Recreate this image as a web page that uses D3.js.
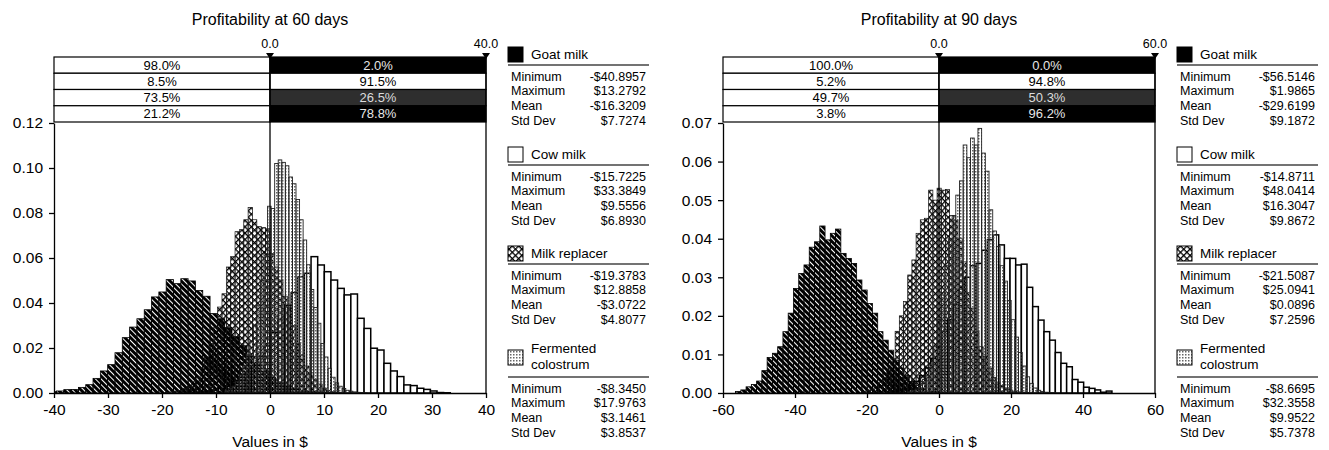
<!DOCTYPE html>
<html>
<head>
<meta charset="utf-8">
<script src="https://cdn.jsdelivr.net/npm/d3@7"></script>
<style>
body { margin: 0; background: #fff; }
text { font-family: "Liberation Sans", Arial, sans-serif; fill: #000; }
</style>
</head>
<body>
<div id="chart"></div>
<script>
// ---- data ----
var seriesNames = ["Goat milk", "Cow milk", "Milk replacer", "Fermented colostrum"];
var legendLines = [["Goat milk"], ["Cow milk"], ["Milk replacer"], ["Fermented", "colostrum"]];
var statLabels = ["Minimum", "Maximum", "Mean", "Std Dev"];

// 60 days
var xTicks60 = [-40, -30, -20, -10, 0, 10, 20, 30, 40];
var yTicks60 = [0, 0.02, 0.04, 0.06, 0.08, 0.10, 0.12];
var markers60 = [0, 40];
var belowZero60 = [98.0, 8.5, 73.5, 21.2];
var aboveZero60 = [2.0, 91.5, 26.5, 78.8];
var goatStats60 = [-40.8957, 13.2792, -16.3209, 7.7274];
var cowStats60 = [-15.7225, 33.3849, 9.5556, 6.8930];
var replacerStats60 = [-19.3783, 12.8858, -3.0722, 4.8077];
var colostrumStats60 = [-8.3450, 17.9763, 3.1461, 3.8537];
var goatHist60 = [0.0006, 0.0009, 0.0015, 0.0016, 0.0025, 0.0037, 0.0065, 0.0098, 0.0126, 0.0179,
  0.0246, 0.0293, 0.033, 0.037, 0.0427, 0.0449, 0.0504, 0.0486, 0.0508, 0.0498,
  0.0456, 0.043, 0.0353, 0.033, 0.029, 0.025, 0.021, 0.0165, 0.013, 0.0095,
  0.0068, 0.0048, 0.0032, 0.0022, 0.0013, 0.0008, 0.0005, 0.0003, 0.0002, 0.0001];
var cowHist60 = [0.0001, 0.0002, 0.0005, 0.0008, 0.0013, 0.002, 0.003, 0.005, 0.007, 0.009,
  0.012, 0.016, 0.021, 0.027, 0.033, 0.039, 0.0446, 0.0517, 0.0532, 0.0606,
  0.0569, 0.0539, 0.0502, 0.0465, 0.0436, 0.044, 0.0332, 0.0287, 0.0199, 0.0191,
  0.0132, 0.0098, 0.0073, 0.0036, 0.0033, 0.0021, 0.0016, 0.0009, 0.0002, 0.0001];
var replacerHist60 = [0.0003, 0.0005, 0.0008, 0.0012, 0.002, 0.003, 0.005, 0.007, 0.011, 0.016,
  0.022, 0.029, 0.0382, 0.0441, 0.056, 0.0606, 0.0717, 0.0726, 0.077, 0.0825,
  0.077, 0.074, 0.0735, 0.073, 0.062, 0.056, 0.05, 0.043, 0.038, 0.03,
  0.022, 0.017, 0.012, 0.009, 0.006, 0.004, 0.0022, 0.0012, 0.0006, 0.0002];
var colostrumHist60 = [0.001, 0.002, 0.003, 0.005, 0.008, 0.012, 0.017, 0.023, 0.03, 0.039,
  0.05, 0.062, 0.083, 0.082, 0.102, 0.1036, 0.1025, 0.101, 0.096, 0.093,
  0.086, 0.077, 0.068, 0.057, 0.046, 0.038, 0.031, 0.022, 0.016, 0.011,
  0.007, 0.0045, 0.003, 0.002, 0.0012, 0.0008, 0.0005, 0.0003, 0.0002, 0.0001];

// 90 days
var xTicks90 = [-60, -40, -20, 0, 20, 40, 60];
var yTicks90 = [0, 0.01, 0.02, 0.03, 0.04, 0.05, 0.06, 0.07];
var markers90 = [0, 60];
var belowZero90 = [100.0, 5.2, 49.7, 3.8];
var aboveZero90 = [0.0, 94.8, 50.3, 96.2];
var goatStats90 = [-56.5146, 1.9865, -29.6199, 9.1872];
var cowStats90 = [-14.8711, 48.0414, 16.3047, 9.8672];
var replacerStats90 = [-21.5087, 25.0941, 0.0896, 7.2596];
var colostrumStats90 = [-8.6695, 32.3558, 9.9522, 5.7378];
var goatHist90 = [0.0004, 0.0008, 0.0016, 0.0022, 0.0031, 0.0058, 0.0092, 0.0103, 0.012, 0.0159,
  0.0207, 0.0271, 0.031, 0.0332, 0.0378, 0.0392, 0.0433, 0.0397, 0.0414, 0.0425,
  0.0362, 0.0349, 0.0336, 0.0293, 0.0267, 0.0232, 0.0207, 0.0159, 0.0137, 0.0111,
  0.0085, 0.0065, 0.0045, 0.003, 0.002, 0.0012, 0.0007, 0.0004, 0.0002, 0.0001];
var cowHist90 = [0.0002, 0.0004, 0.0007, 0.0012, 0.002, 0.003, 0.0045, 0.0065, 0.009, 0.012,
  0.016, 0.019, 0.023, 0.027, 0.030, 0.033, 0.0336, 0.037, 0.0397, 0.041,
  0.0384, 0.0349, 0.0349, 0.0332, 0.0334, 0.0274, 0.0224, 0.0189, 0.0159, 0.0137,
  0.0105, 0.0077, 0.0068, 0.0035, 0.0028, 0.0015, 0.0012, 0.0008, 0.0002, 0.0005];
var replacerHist90 = [0.0003, 0.0006, 0.001, 0.0017, 0.0027, 0.004, 0.006, 0.009, 0.016, 0.02,
  0.0237, 0.0306, 0.0345, 0.0414, 0.0449, 0.0453, 0.0526, 0.05, 0.0531, 0.0526,
  0.0528, 0.046, 0.0447, 0.04, 0.034, 0.026, 0.022, 0.016, 0.012, 0.0095,
  0.0065, 0.004, 0.0028, 0.002, 0.0013, 0.0008, 0.0005, 0.0003, 0.0002, 0.0001];
var colostrumHist90 = [0.0003, 0.0006, 0.001, 0.002, 0.0035, 0.0045, 0.0075, 0.012, 0.019, 0.026,
  0.033, 0.040, 0.046, 0.0513, 0.055, 0.0643, 0.061, 0.0661, 0.0643, 0.0686,
  0.0622, 0.0575, 0.0475, 0.042, 0.038, 0.033, 0.029, 0.024, 0.019, 0.0145,
  0.0105, 0.007, 0.0042, 0.0025, 0.0013, 0.0007, 0.0004, 0.0002, 0.0001, 0.0001];

var panels = [
  { title: "Profitability at 60 days", left: 54, xTicks: xTicks60, yTicks: yTicks60, markers: markers60,
    below: belowZero60, above: aboveZero60,
    hists: [goatHist60, cowHist60, replacerHist60, colostrumHist60],
    stats: [goatStats60, cowStats60, replacerStats60, colostrumStats60] },
  { title: "Profitability at 90 days", left: 723, xTicks: xTicks90, yTicks: yTicks90, markers: markers90,
    below: belowZero90, above: aboveZero90,
    hists: [goatHist90, cowHist90, replacerHist90, colostrumHist90],
    stats: [goatStats90, cowStats90, replacerStats90, colostrumStats90] }
];

// ---- layout ----
var width = 1329, height = 450;
var plotW = 432, plotTop = 123, plotBottom = 393;
var tableTop = 57, rowH = 16.25;

var svg = d3.select("#chart").append("svg")
  .attr("width", width)
  .attr("height", height);

var defs = svg.append("defs");

// goat: black with thin white diagonal gaps
var pGoat = defs.append("pattern").attr("id", "pGoat")
  .attr("patternUnits", "userSpaceOnUse").attr("width", 4).attr("height", 4)
  .attr("patternTransform", "rotate(-45)");
pGoat.append("rect").attr("width", 3).attr("height", 4).attr("fill", "#000");

// milk replacer: cross hatch
var pRep = defs.append("pattern").attr("id", "pRep")
  .attr("patternUnits", "userSpaceOnUse").attr("width", 4.5).attr("height", 4.5)
  .attr("patternTransform", "rotate(45)");
pRep.append("rect").attr("width", 4.5).attr("height", 1.3).attr("fill", "#000");
pRep.append("rect").attr("width", 1.3).attr("height", 4.5).attr("fill", "#000");

// fermented colostrum: grey dots
var pCol = defs.append("pattern").attr("id", "pCol")
  .attr("patternUnits", "userSpaceOnUse").attr("width", 3).attr("height", 3);
pCol.append("rect").attr("width", 1.5).attr("height", 1.5).attr("fill", "#666");

var fills = ["url(#pGoat)", "#fff", "url(#pRep)", "url(#pCol)"];
var strokes = ["#000", "#000", "#111", "#222"];
var strokeW = [0.8, 1.5, 0.7, 0.9];
var iconFills = ["#000", "#fff", "url(#pRep)", "url(#pCol)"];
var drawOrder = [1, 0, 2, 3];
var rowFill = ["#000", "#fff", "#2e2e2e", "#000"];
var rowText = ["#e6e6e6", "#000", "#dcdcdc", "#e6e6e6"];

var money = function(v) { return (v < 0 ? "-$" : "$") + Math.abs(v).toFixed(4); };
var pct = function(v) { return v.toFixed(1) + "%"; };
var plain = function(v) { return String(v); };

panels.forEach(function(p, pi) {
  var xDom = d3.extent(p.xTicks), yDom = d3.extent(p.yTicks);
  var x = d3.scaleLinear().domain(xDom).range([p.left, p.left + plotW]);
  var y = d3.scaleLinear().domain(yDom).range([plotBottom, plotTop]);
  var g = svg.append("g");

  defs.append("clipPath").attr("id", "clip" + pi)
    .append("rect").attr("x", p.left).attr("y", plotTop)
    .attr("width", plotW).attr("height", plotBottom - plotTop);

  // title
  g.append("text").attr("x", p.left + plotW / 2).attr("y", 25)
    .attr("text-anchor", "middle").style("font-size", "16px").text(p.title);

  // histograms
  var bars = g.append("g").attr("clip-path", "url(#clip" + pi + ")");
  drawOrder.forEach(function(si) {
    var h = p.hists[si];
    var lo = p.stats[si][0], hi = p.stats[si][1];
    var w = (hi - lo) / h.length;
    bars.append("g").selectAll("rect")
      .data(h)
      .enter()
      .append("rect")
      .attr("x", function(d, i) { return x(lo + i * w); })
      .attr("width", function(d, i) { return x(lo + (i + 1) * w) - x(lo + i * w); })
      .attr("y", function(d) { return y(d); })
      .attr("height", function(d) { return y(0) - y(d); })
      .attr("fill", fills[si])
      .attr("stroke", strokes[si])
      .attr("stroke-width", strokeW[si]);
  });

  // table of probabilities
  var tbl = g.append("g");
  var x0 = x(p.markers[0]), x1 = x(p.markers[1]);
  p.below.forEach(function(v, i) {
    var ty = tableTop + i * rowH;
    tbl.append("rect").attr("x", p.left).attr("y", ty).attr("width", x0 - p.left).attr("height", rowH)
      .attr("fill", "#fff").attr("stroke", "#000").attr("stroke-width", 1.2);
    tbl.append("rect").attr("x", x0).attr("y", ty).attr("width", x1 - x0).attr("height", rowH)
      .attr("fill", rowFill[i]).attr("stroke", "#000").attr("stroke-width", 1.2);
    tbl.append("text").attr("x", (p.left + x0) / 2).attr("y", ty + rowH / 2 + 4.6)
      .attr("text-anchor", "middle").style("font-size", "13px").text(pct(v));
    tbl.append("text").attr("x", (x0 + x1) / 2).attr("y", ty + rowH / 2 + 4.6)
      .attr("text-anchor", "middle").style("font-size", "13px")
      .style("fill", rowText[i]).text(pct(p.above[i]));
  });

  // markers above table
  p.markers.forEach(function(m) {
    var mx = x(m);
    g.append("path")
      .attr("d", "M" + (mx - 4) + "," + (tableTop - 4) + "L" + (mx + 4) + "," + (tableTop - 4) + "L" + mx + "," + (tableTop + 2) + "Z")
      .attr("fill", "#000");
    g.append("text").attr("x", mx).attr("y", 47.5).attr("text-anchor", "middle")
      .style("font-size", "12.5px").text(m.toFixed(1));
  });

  // zero line and right border
  g.append("line").attr("x1", x0).attr("x2", x0).attr("y1", tableTop).attr("y2", plotBottom)
    .attr("stroke", "#000").attr("stroke-width", 1.3);
  g.append("line").attr("x1", x1).attr("x2", x1).attr("y1", tableTop).attr("y2", plotBottom)
    .attr("stroke", "#000").attr("stroke-width", 1.3);

  // axes
  var yAxis = d3.axisLeft(y).tickValues(p.yTicks).tickFormat(d3.format(".2f"))
    .tickSize(5).tickPadding(6).tickSizeOuter(0);
  var xAxis = d3.axisBottom(x).tickValues(p.xTicks).tickFormat(plain)
    .tickSize(5).tickPadding(6).tickSizeOuter(0);
  var ya = g.append("g").attr("transform", "translate(" + p.left + ",0)").call(yAxis);
  var xa = g.append("g").attr("transform", "translate(0," + plotBottom + ")").call(xAxis);
  [ya, xa].forEach(function(a) {
    a.selectAll("path, line").attr("stroke", "#000").attr("stroke-width", 1.3);
    a.selectAll("text").style("font-size", "15.5px").attr("fill", "#000")
      .style("font-family", "'Liberation Sans', Arial, sans-serif");
  });

  g.append("text").attr("x", p.left + plotW / 2).attr("y", 447)
    .attr("text-anchor", "middle").style("font-size", "15.5px").text("Values in $");

  // legend with statistics
  var lx = p.left + plotW + 22;
  var lg = g.append("g");
  var tops = [47, 147, 246, 349];
  seriesNames.forEach(function(name, si) {
    var top = tops[si];
    var lines = legendLines[si];
    lg.append("rect").attr("x", lx).attr("y", top + (lines.length > 1 ? 1 : 0)).attr("width", 15).attr("height", 15)
      .attr("fill", iconFills[si]).attr("stroke", "#000").attr("stroke-width", 1);
    lines.forEach(function(t, li) {
      lg.append("text").attr("x", lx + 23)
        .attr("y", lines.length > 1 ? top + 4 + li * 16 : top + 12)
        .style("font-size", "13.5px").text(t);
    });
    var ruleY = top + 18 + (lines.length - 1) * 10;
    lg.append("line").attr("x1", lx).attr("x2", lx + 141).attr("y1", ruleY).attr("y2", ruleY)
      .attr("stroke", "#444").attr("stroke-width", 1.3);
    statLabels.forEach(function(lab, j) {
      var sy = ruleY + 15.5 + j * 14.9;
      lg.append("text").attr("x", lx + 3).attr("y", sy).style("font-size", "12.5px").text(lab);
      lg.append("text").attr("x", lx + 138).attr("y", sy).attr("text-anchor", "end")
        .style("font-size", "12.5px").text(money(p.stats[si][j]));
    });
  });
});
</script>
</body>
</html>
